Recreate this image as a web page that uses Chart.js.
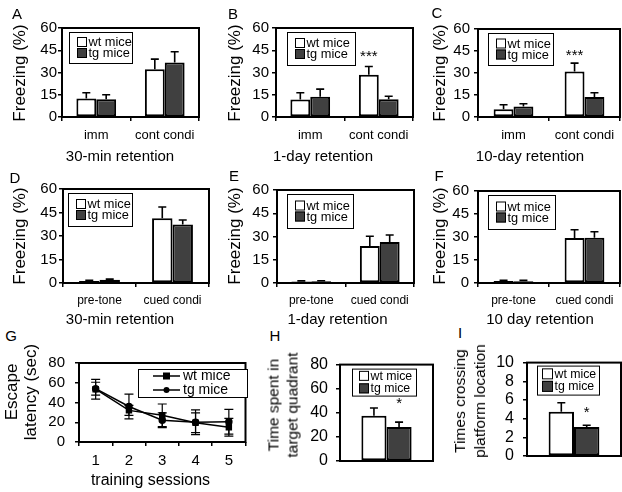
<!DOCTYPE html>
<html>
<head>
<meta charset="utf-8">
<script src="https://cdn.jsdelivr.net/npm/chart.js@4.4.1/dist/chart.umd.min.js"></script>
<style>
  body { margin: 0; background: #fff; }
  #fig { position: relative; width: 622px; height: 492px; overflow: hidden;
         font-family: 'Liberation Sans', Arial, sans-serif; color: #000; }
  #fig canvas { position: absolute; }
  .txt { position: absolute; white-space: nowrap; text-align: center; color: #000;
         transform: translate(-50%, -50%); }
</style>
</head>
<body>
<div id="fig"></div>
<script>
// ---- data ----
const freezeTicks = [0, 15, 30, 45, 60];
const latencyTicks = [0, 20, 40, 60, 80];
const quadrantTicks = [0, 20, 40, 60, 80];
const crossingTicks = [0, 2, 4, 6, 8, 10];
const contextGroups = ['imm', 'cont condi'];
const cuedGroups = ['pre-tone', 'cued condi'];
const sessions = ['1', '2', '3', '4', '5'];
const seriesNames = ['wt mice', 'tg mice'];

// A  30-min retention (context)
const wtA = [12.5, 32.2], wtAErr = [3.8, 6.8];
const tgA = [12.0, 36.7], tgAErr = [3.0, 7.3];
// B  1-day retention (context)
const wtB = [11.8, 28.5], wtBErr = [4.5, 5.5];
const tgB = [13.6, 12.0], tgBErr = [5.2, 2.0];
const sigB = ['', '***'];
// C  10-day retention (context)
const wtC = [5.2, 31.0], wtCErr = [3.2, 5.7];
const tgC = [7.2, 13.6], tgCErr = [1.8, 2.9];
const sigC = ['', '***'];
// D  30-min retention (cued)
const wtD = [1.3, 41.3], wtDErr = [0.4, 7.2];
const tgD = [2.0, 37.4], tgDErr = [0.5, 2.8];
// E  1-day retention (cued)
const wtE = [1.0, 23.8], wtEErr = [0.4, 6.4];
const tgE = [1.1, 26.4], tgEErr = [0.4, 4.6];
// F  10 day retention (cued)
const wtF = [1.3, 29.4], wtFErr = [0.4, 5.3];
const tgF = [1.2, 29.5], tgFErr = [0.5, 3.9];
// G  escape latency
const wtG = [53.5, 32, 27, 19.5, 15], wtGErr = [10, 5, 11.5, 10, 9];
const tgG = [54, 36, 22, 20, 20.5], tgGErr = [6.5, 12.5, 7.5, 12.5, 12.5];
// H  time in target quadrant
const wtH = [37.5], wtHErr = [6.5];
const tgH = [28.3], tgHErr = [4.0];
const sigH = ['*'];
// I  platform crossings
const wtI = [4.75], wtIErr = [0.95];
const tgI = [3.1], tgIErr = [0.2];
const sigI = ['*'];

const FONT = "'Liberation Sans', Arial, sans-serif";
const TG_FILL = '#404040';
Chart.defaults.font.family = FONT;
Chart.defaults.color = '#000';

const fig = document.getElementById('fig');

// ---- plugins ----
const errorBars = {
  id: 'errorBars',
  afterDatasetsDraw(chart, args, opts) {
    const ctx = chart.ctx;
    const y = chart.scales.y;
    chart.data.datasets.forEach((ds, i) => {
      if (!ds.errors) return;
      const meta = chart.getDatasetMeta(i);
      meta.data.forEach((el, j) => {
        const v = ds.data[j], e = ds.errors[j];
        const top = y.getPixelForValue(v + e);
        const isLine = chart.config.type === 'line';
        const bot = isLine ? y.getPixelForValue(v - e) : el.y;
        const cap = isLine ? 4.5 : 4;
        ctx.save();
        ctx.strokeStyle = '#000';
        ctx.lineWidth = isLine ? 1.2 : 1.6;
        ctx.beginPath();
        ctx.moveTo(el.x, bot); ctx.lineTo(el.x, top);
        ctx.moveTo(el.x - cap, top); ctx.lineTo(el.x + cap, top);
        if (isLine) { ctx.moveTo(el.x - cap, bot); ctx.lineTo(el.x + cap, bot); }
        ctx.stroke();
        if (ds.sig && ds.sig[j]) {
          ctx.fillStyle = '#000';
          ctx.font = '15px ' + FONT;
          ctx.textAlign = 'center';
          ctx.textBaseline = 'alphabetic';
          ctx.fillText(ds.sig[j], el.x, top - (opts.sigGap || 0));
        }
        ctx.restore();
      });
    });
  }
};

const frame = {
  id: 'frame',
  afterDatasetsDraw(chart) {
    const {ctx, chartArea: a} = chart;
    ctx.save();
    ctx.strokeStyle = '#000';
    ctx.lineWidth = 2;
    ctx.strokeRect(a.left, a.top, a.right - a.left, a.bottom - a.top);
    ctx.restore();
  }
};

const boxLegend = {
  id: 'boxLegend',
  afterDraw(chart, args, o) {
    if (!o || !o.w) return;
    const {ctx, chartArea: a} = chart;
    const x = a.left + o.dx, y = a.top + o.dy;
    ctx.save();
    ctx.fillStyle = '#fff';
    ctx.fillRect(x, y, o.w, o.h);
    ctx.strokeStyle = '#000';
    ctx.lineWidth = 1;
    ctx.strokeRect(x + 0.5, y + 0.5, o.w, o.h);
    ctx.font = o.font + 'px ' + FONT;
    ctx.textBaseline = 'middle';
    ctx.textAlign = 'left';
    const n = chart.data.datasets.length;
    const first = y + (o.h - o.rowH * (n - 1)) / 2;
    chart.data.datasets.forEach((ds, i) => {
      const cy = first + i * o.rowH;
      let tx;
      if (chart.config.type === 'line') {
        const x0 = x + o.sx, x1 = x0 + o.lineLen, mx = (x0 + x1) / 2;
        ctx.strokeStyle = '#000';
        ctx.lineWidth = 1.5;
        ctx.beginPath(); ctx.moveTo(x0, cy); ctx.lineTo(x1, cy); ctx.stroke();
        ctx.fillStyle = '#000';
        if (ds.pointStyle === 'rect') ctx.fillRect(mx - 3.5, cy - 3.5, 7, 7);
        else { ctx.beginPath(); ctx.arc(mx, cy, 3, 0, Math.PI * 2); ctx.fill(); }
        tx = x1 + 3;
      } else {
        const s = o.size;
        ctx.fillStyle = ds.backgroundColor;
        ctx.fillRect(x + o.sx, cy - s / 2, s, s);
        ctx.strokeStyle = '#000';
        ctx.lineWidth = 1;
        ctx.strokeRect(x + o.sx + 0.5, cy - s / 2 + 0.5, s - 1, s - 1);
        tx = x + o.sx + s + 1.5;
      }
      ctx.fillStyle = '#000';
      ctx.fillText(ds.label, tx, cy + 0.5);
    });
    ctx.restore();
  }
};

// ---- chart builder ----
function addChart(p) {
  const WY = 48, TOP = 12, RIGHT = 4, HX = 34;
  const left = p.area[0] - WY, top = p.area[1] - TOP;
  const w = p.area[2] - left + RIGHT, h = p.area[3] - top + HX;
  const cv = document.createElement('canvas');
  cv.width = w; cv.height = h;
  cv.style.left = left + 'px'; cv.style.top = top + 'px';
  cv.style.width = w + 'px'; cv.style.height = h + 'px';
  fig.appendChild(cv);
  const showX = p.xTicks !== false;
  return new Chart(cv, {
    type: p.type,
    data: { labels: p.labels, datasets: p.datasets },
    plugins: [errorBars, frame, boxLegend],
    options: {
      responsive: false,
      animation: false,
      devicePixelRatio: 1,
      layout: { padding: { left: 0, top: TOP, right: RIGHT, bottom: 0 } },
      plugins: {
        legend: { display: false },
        tooltip: { enabled: false },
        boxLegend: p.legend,
        errorBars: { sigGap: p.sigGap || 0 }
      },
      scales: {
        x: {
          offset: true,
          grid: { offset: true, drawOnChartArea: false, drawTicks: showX,
                  tickLength: 4, color: '#000', lineWidth: 1.5 },
          border: { display: false },
          ticks: { display: showX, font: { size: p.xFont || 13 }, padding: p.xPad || 7,
                   maxRotation: 0, autoSkip: false, color: '#000' },
          afterFit: s => { s.height = HX; }
        },
        y: {
          min: 0,
          max: p.yTicks[p.yTicks.length - 1],
          afterBuildTicks: s => { s.ticks = p.yTicks.map(v => ({ value: v })); },
          grid: { drawOnChartArea: false, tickLength: 4, color: '#000', lineWidth: 1.5 },
          border: { display: false },
          ticks: { font: { size: p.yFont || 15 }, padding: p.yPad, color: '#000',
                   autoSkip: false },
          afterFit: s => { s.width = WY; }
        }
      }
    }
  });
}

function barSets(wt, wtErr, tg, tgErr, pct, wtSig, tgSig) {
  const base = { borderColor: '#000', borderWidth: 2, borderSkipped: false,
                 categoryPercentage: pct, barPercentage: 1 };
  return [
    Object.assign({ label: seriesNames[0], data: wt, errors: wtErr, sig: wtSig,
                    backgroundColor: '#fff' }, base),
    Object.assign({ label: seriesNames[1], data: tg, errors: tgErr, sig: tgSig,
                    backgroundColor: TG_FILL }, base)
  ];
}

function leg(dx, dy, w, h) {
  return { dx, dy, w, h, rowH: 11, sx: 8, size: 10, font: 12.8 };
}

// A - F: freezing
addChart({ type: 'bar', area: [62, 28, 199, 117], labels: contextGroups,
  datasets: barSets(wtA, wtAErr, tgA, tgAErr, 0.58),
  yTicks: freezeTicks, yPad: 1, legend: leg(7, 4, 63, 31) });
addChart({ type: 'bar', area: [276, 28, 413, 117], labels: contextGroups,
  datasets: barSets(wtB, wtBErr, tgB, tgBErr, 0.58, sigB),
  yTicks: freezeTicks, yPad: 3, legend: leg(11, 4, 68, 33), sigGap: 6 });
addChart({ type: 'bar', area: [478, 28, 620, 117], labels: contextGroups,
  datasets: barSets(wtC, wtCErr, tgC, tgCErr, 0.56, sigC),
  yTicks: freezeTicks, yPad: 4, legend: leg(10, 4, 65, 32), sigGap: 3 });
addChart({ type: 'bar', area: [63, 189, 209, 283], labels: cuedGroups,
  datasets: barSets(wtD, wtDErr, tgD, tgDErr, 0.56),
  yTicks: freezeTicks, yPad: 2, xFont: 12, xPad: 6, legend: leg(5, 4, 64, 33) });
addChart({ type: 'bar', area: [277, 189, 414, 283], labels: cuedGroups,
  datasets: barSets(wtE, wtEErr, tgE, tgEErr, 0.58),
  yTicks: freezeTicks, yPad: 4, xFont: 12, xPad: 6, legend: leg(10, 4, 66, 34) });
addChart({ type: 'bar', area: [478, 189, 620, 283], labels: cuedGroups,
  datasets: barSets(wtF, wtFErr, tgF, tgFErr, 0.56),
  yTicks: freezeTicks, yPad: 5, xFont: 12, xPad: 6, legend: leg(10, 4, 67, 34) });

// G: water maze latency
addChart({ type: 'line', area: [79, 356, 247, 442], labels: sessions,
  datasets: [
    { label: seriesNames[0], data: wtG, errors: wtGErr, borderColor: '#000', borderWidth: 1.5,
      pointStyle: 'rect', pointRadius: 3.5, pointBackgroundColor: '#000', pointBorderColor: '#000' },
    { label: seriesNames[1], data: tgG, errors: tgGErr, borderColor: '#000', borderWidth: 1.5,
      pointStyle: 'circle', pointRadius: 3, pointBackgroundColor: '#000', pointBorderColor: '#000' }
  ],
  yTicks: latencyTicks, yPad: 10, xFont: 15, xPad: 6,
  legend: { dx: 59, dy: 6, w: 109, h: 28, rowH: 14, sx: 15, lineLen: 27, font: 14 } });

// H, I: probe trial
addChart({ type: 'bar', area: [340, 359, 433, 461], labels: [''],
  datasets: barSets(wtH, wtHErr, tgH, tgHErr, 0.54, null, sigH),
  yTicks: quadrantTicks, yPad: 8, yFont: 16, xTicks: false,
  legend: { dx: 12, dy: 4, w: 64, h: 27, rowH: 12.5, sx: 7, size: 10, font: 12.3 }, sigGap: 14 });
addChart({ type: 'bar', area: [527, 356, 621, 456], labels: [''],
  datasets: barSets(wtI, wtIErr, tgI, tgIErr, 0.54, null, sigI),
  yTicks: crossingTicks, yPad: 9, yFont: 16, xTicks: false,
  legend: { dx: 10, dy: 3, w: 62, h: 29, rowH: 12.5, sx: 5, size: 11, font: 12.3 }, sigGap: 8 });

// ---- panel letters, axis titles and captions ----
function addText(lines, cx, cy, size, rotate, lineH) {
  const d = document.createElement('div');
  d.className = 'txt';
  lines.forEach((t, i) => {
    if (i) d.appendChild(document.createElement('br'));
    d.appendChild(document.createTextNode(t));
  });
  d.style.left = cx + 'px';
  d.style.top = cy + 'px';
  d.style.fontSize = size + 'px';
  d.style.lineHeight = (lineH || Math.round(size * 1.15)) + 'px';
  if (rotate) d.style.transform = 'translate(-50%, -50%) rotate(-90deg)';
  fig.appendChild(d);
}

[['A', 17, 13], ['B', 233, 13], ['C', 437, 12], ['D', 15, 177], ['E', 234, 175],
 ['F', 439, 175], ['G', 11, 335], ['H', 275, 335], ['I', 460, 332]]
  .forEach(l => addText([l[0]], l[1], l[2], 15));

[[19.5, 72.5], [235, 72.5], [439.5, 72.5], [19.5, 236], [235, 236], [439.5, 236]]
  .forEach(p => addText(['Freezing (%)'], p[0], p[1], 17, true));
addText(['Escape', 'latency (sec)'], 20.5, 392, 17, true, 19);
addText(['Time spent in', 'target  quadrant'], 283, 405, 15.5, true, 18.5);
addText(['Times crossing', 'platform location'], 470, 401, 15.5, true, 20);

addText(['30-min retention'], 120, 155, 15);
addText(['1-day retention'], 323, 155, 15);
addText(['10-day retention'], 530, 155, 15);
addText(['30-min retention'], 120, 318, 15);
addText(['1-day retention'], 337.5, 318, 15);
addText(['10 day retention'], 540, 318, 15);
addText(['training sessions'], 150.5, 480, 16);
</script>
</body>
</html>
